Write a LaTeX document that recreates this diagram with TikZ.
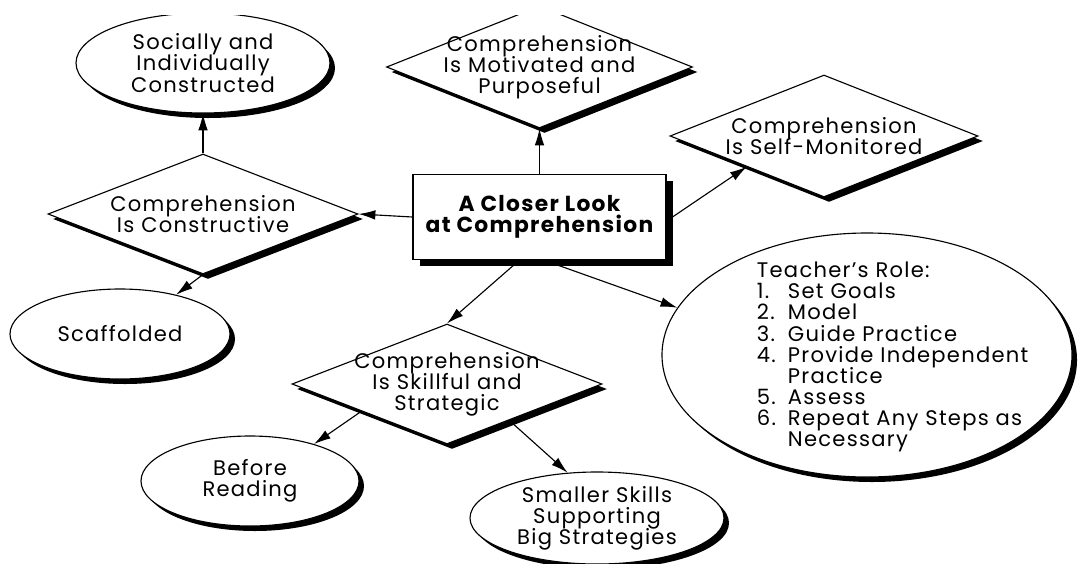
\documentclass[tikz,border=0pt]{standalone}
\usepackage{fontspec}
\setmainfont{Poppins}[LetterSpace=6]
\usetikzlibrary{arrows.meta, positioning, calc, shapes.geometric, shadows}

\tikzset{
  txt/.style={align=center, font=\fontsize{15}{15}\selectfont, execute at begin node={\lineskiplimit=-20pt}},
  hard shadow/.style={drop shadow={shadow xshift=1.25mm, shadow yshift=-1.25mm, fill=black, opacity=1}},
  idea/.style={diamond, draw, fill=white, line width=0.8pt, inner sep=0pt, hard shadow, label={[txt]center:#1}},
  bubble/.style={ellipse, draw, fill=white, line width=0.8pt, inner sep=0pt, hard shadow, label={[txt]center:#1}},
  hub/.style={rectangle, draw, fill=white, line width=0.8pt, txt, font=\fontsize{15.5}{15}\selectfont\bfseries,
    drop shadow={shadow xshift=1.7mm, shadow yshift=-1.5mm, fill=black, opacity=1}},
  link/.style={-{Latex[length=4.2mm,width=2.4mm]}, line width=0.8pt},
}
\newcommand\stepno[1]{\makebox[7.75mm][l]{#1}}

\begin{document}
\begin{tikzpicture}[x=0.25mm, y=-0.25mm]
\useasboundingbox[fill=white] (0,0) rectangle (1078,563);
\clip (0,15) rectangle (1078,563);

% centre
\node[hub, minimum width=63.25mm, minimum height=21.25mm] (look) at (539.5,217) {A Closer Look\\at Comprehension};

% diamonds
\node[idea={Comprehension\\Is Constructive}, minimum width=77.5mm, minimum height=30mm] (cons) at (203,214) {};
\node[idea={Comprehension\\Is Motivated and\\Purposeful}, minimum width=76.5mm, minimum height=30.5mm] (mot) at (539.5,67) {};
\node[idea={Comprehension\\Is Self-Monitored}, minimum width=77mm, minimum height=30.5mm] (self) at (824,136) {};
\node[idea={Comprehension\\Is Skillful and\\Strategic}, minimum width=77.5mm, minimum height=30mm] (skill) at (447,384) {};

% ellipses
\node[bubble={Socially and\\Individually\\Constructed}, minimum width=63.5mm, minimum height=25mm] (soc) at (203,63) {};
\node[bubble={Scaffolded}, minimum width=55mm, minimum height=22.5mm] (scaf) at (120,334) {};
\node[bubble={Before\\Reading}, minimum width=54.5mm, minimum height=22.5mm] (before) at (250,481) {};
\node[bubble={Smaller Skills\\Supporting\\Big Strategies}, minimum width=63.5mm, minimum height=23mm] (small) at (597,518) {};
\node[bubble={}, minimum width=102.5mm, minimum height=61mm] (teach) at (867,355) {};
\node[txt, align=left, anchor=west] (role) at (752,357) {Teacher's Role:\\
  \stepno{1.}Set Goals\\
  \stepno{2.}Model\\
  \stepno{3.}Guide Practice\\
  \stepno{4.}Provide Independent\\
  \stepno{}Practice\\
  \stepno{5.}Assess\\
  \stepno{6.}Repeat Any Steps as\\
  \stepno{}Necessary};

% connectors
\draw[link] (cons.north) -- (soc.south);
\draw[link] (look.west) -- (cons.east);
\draw[link] (look.north) -- (mot.south);
\draw[link] ([yshift=-1mm]look.east) -- (self.south west);
\draw[link] ([xshift=-5mm]look.south) -- (skill.north);
\draw[link] ([xshift=1mm]look.south) -- (teach.166);
\draw[link] (cons.south) -- (scaf.35);
\draw[link] ($(skill.south)!0.55!(skill.west)$) -- (before.30);
\draw[link] ($(skill.south)!0.4!(skill.east)$) -- (small.123);
\end{tikzpicture}
\end{document}
